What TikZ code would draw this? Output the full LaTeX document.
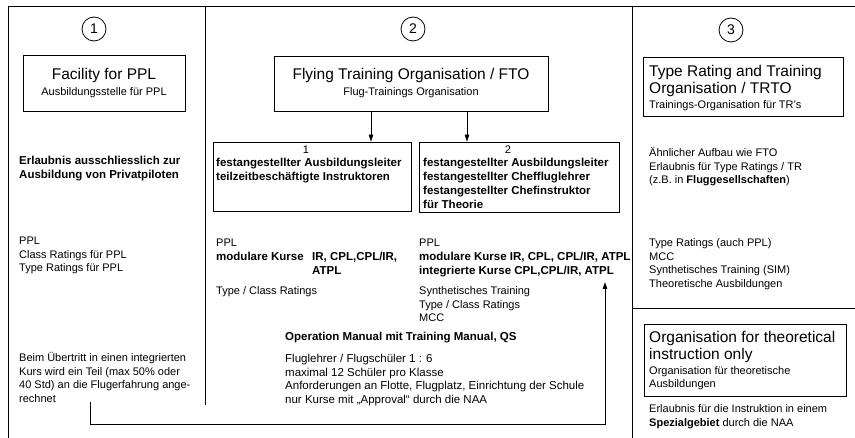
\documentclass[tikz,border=0pt]{standalone}
\usepackage{fontspec}
\setmainfont{Liberation Sans}
\usetikzlibrary{arrows.meta}
\newcommand{\mylines}[1]{\begin{tabular}[t]{@{}l@{}}#1\end{tabular}}
\begin{document}
\begin{tikzpicture}[x=1pt,y=-1pt,
  frame/.style={line width=1pt},
  box/.style={draw, line width=0.8pt, inner sep=0pt},
  num/.style={draw, circle, line width=0.8pt, minimum size=24pt, inner sep=0pt, font=\fontsize{14}{16}\selectfont},
  title/.style={inner sep=0pt, font=\fontsize{15.5}{17}\selectfont},
  sub/.style={inner sep=0pt, font=\fontsize{11}{13}\selectfont},
  txt/.style={anchor=base west, inner sep=0pt, font=\fontsize{11}{13.5}\selectfont},
  btxt/.style={txt, font=\fontsize{11.5}{14}\selectfont\bfseries},
  arr/.style={line width=0.8pt, -{Triangle[length=7pt,width=4.5pt]}}
]
\useasboundingbox (0,0) rectangle (855,438);
% frame
\draw[frame] (8,438) -- (8,7) -- (855,7);
\draw[frame] (205,7) -- (205,405);
\draw[frame] (632,7) -- (632,438);
\draw[frame] (632,309) -- (855,309);

% column 1
\node[num] (c1) at (94,29) {1};
\node[box, minimum width=162pt, minimum height=56pt] (fac) at (104,83) {};
\node[title] (fact) at (104,75) {Facility for PPL};
\node[sub] (facs) at (104,93) {Ausbildungsstelle für PPL};
\node[btxt] (e1) at (19,165) {\mylines{Erlaubnis ausschliesslich zur\\Ausbildung von Privatpiloten}};
\node[txt] (p1) at (19,245) {\mylines{PPL\\Class Ratings für PPL\\Type Ratings für PPL}};
\node[txt] (b1) at (19,362) {\mylines{Beim Übertritt in einen integrierten\\Kurs wird ein Teil (max 50\% oder\\40 Std) an die Flugerfahrung ange-\\rechnet}};

% column 2
\node[num] (c2) at (413,29) {2};
\node[box, minimum width=274pt, minimum height=55pt] (fto) at (411,83.5) {};
\node[title] (ftot) at (411,75) {Flying Training Organisation / FTO};
\node[sub] (ftos) at (411,93) {Flug-Trainings Organisation};
\node[box, minimum width=198pt, minimum height=69pt] (bx1) at (312,176.5) {};
\node[sub] (bx1n) at (306,150) {1};
\node[btxt] (bx1t) at (216,167) {\mylines{festangestellter Ausbildungsleiter\\teilzeitbeschäftigte Instruktoren}};
\node[box, minimum width=200pt, minimum height=70pt] (bx2) at (519,177) {};
\node[sub] (bx2n) at (508,150) {2};
\node[btxt] (bx2t) at (423,167) {\mylines{festangestellter Ausbildungsleiter\\festangestellter Cheffluglehrer\\festangestellter Chefinstruktor\\für Theorie}};
\draw[arr] ([xshift=-40pt]fto.south) -- ([xshift=-40pt]fto.south |- bx1.north);
\draw[arr] ([xshift=56pt]fto.south) -- ([xshift=56pt]fto.south |- bx2.north);

\node[txt] (p2a) at (216,247) {PPL};
\node[btxt] (m2a) at (216,261) {modulare Kurse};
\node[btxt] (m2b) at (312,261) {\mylines{IR, CPL,CPL/IR,\\ATPL}};
\node[txt] (t2a) at (216,295) {Type / Class Ratings};
\node[txt] (p2b) at (419,247) {PPL};
\node[btxt] (m2c) at (419,261) {\mylines{modulare Kurse IR, CPL, CPL/IR, ATPL\\integrierte Kurse CPL,CPL/IR, ATPL}};
\node[txt] (s2b) at (419,295) {\mylines{Synthetisches Training\\Type / Class Ratings\\MCC}};
\node[btxt] (om) at (285,341) {Operation Manual mit Training Manual, QS};
\node[txt, font=\fontsize{11.5}{13.5}\selectfont] (fl) at (285,363) {\mylines{Fluglehrer / Flugschüler 1 : 6\\maximal 12 Schüler pro Klasse\\Anforderungen an Flotte, Flugplatz, Einrichtung der Schule\\nur Kurse mit „Approval“ durch die NAA}};

% connector
\coordinate (k1) at (90,402);
\coordinate (kb) at (300,424);
\coordinate (k2) at (605,282);
\draw[arr] (k1) -- (k1 |- kb) -| (k2);

% column 3
\node[num] (c3) at (731,30) {3};
\node[box, minimum width=200pt, minimum height=59pt] (trto) at (743,86.5) {};
\node[txt, font=\fontsize{15.5}{17}\selectfont] (trtot) at (649,77) {\mylines{Type Rating and Training\\Organisation / TRTO}};
\node[txt] (trtos) at (649,109) {Trainings-Organisation für TR’s};
\node[txt] (a3) at (649,157) {\mylines{Ähnlicher Aufbau wie FTO\\Erlaubnis für Type Ratings / TR\\(z.B. in \textbf{Fluggesellschaften})}};
\node[txt] (t3) at (649,247) {\mylines{Type Ratings (auch PPL)\\MCC\\Synthetisches Training (SIM)\\Theoretische Ausbildungen}};
\node[box, minimum width=202pt, minimum height=72pt] (org) at (745,360) {};
\node[txt, font=\fontsize{15.5}{17}\selectfont] (orgt) at (649,343) {\mylines{Organisation for theoretical\\instruction only}};
\node[txt, font=\fontsize{11}{13}\selectfont] (orgs) at (649,375) {\mylines{Organisation für theoretische\\Ausbildungen}};
\node[txt] (e3) at (649,413) {\mylines{Erlaubnis für die Instruktion in einem\\\textbf{Spezialgebiet} durch die NAA}};
\end{tikzpicture}
\end{document}
